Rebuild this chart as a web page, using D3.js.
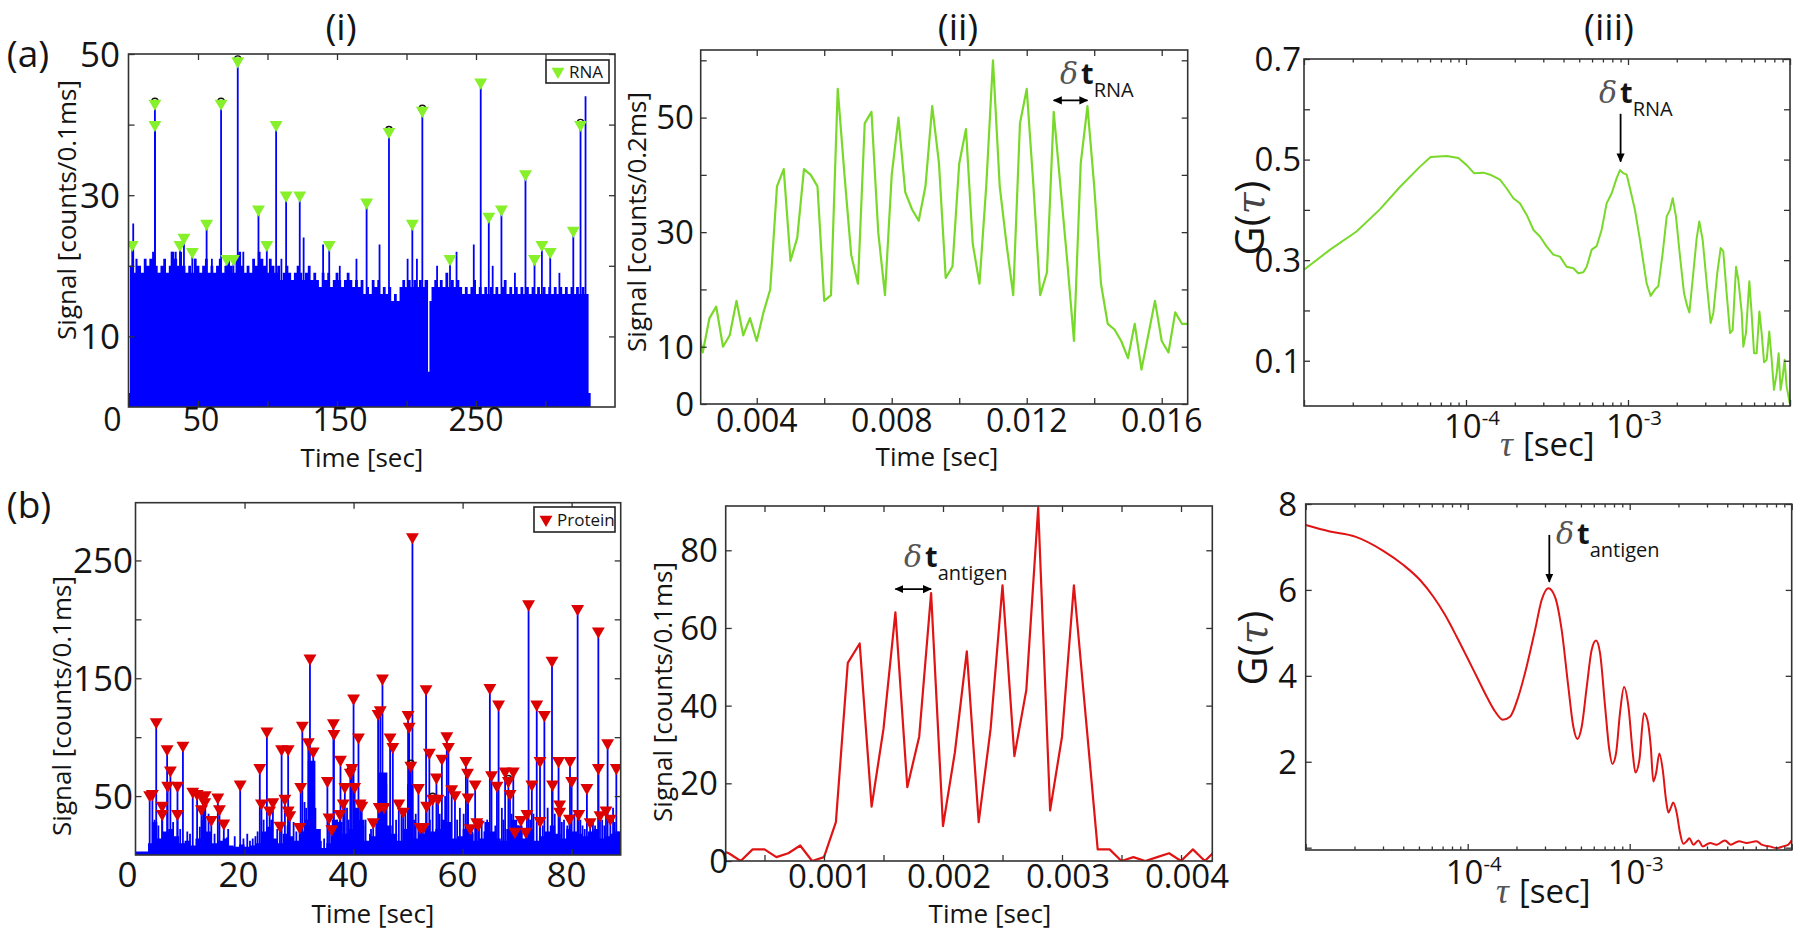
<!DOCTYPE html>
<html><head><meta charset="utf-8">
<script src="https://cdn.jsdelivr.net/npm/d3@7"></script>
<style>
body{margin:0;background:#fff;}
svg text{font-family:"Open Sans",sans-serif;fill:#141414;}
</style></head><body>
<script>
// ================= DATA =================
// (a)(i) RNA time trace
const rnaEnvelope=[[0,2],[1,20],[3,19],[5,21],[6.5,20],[9,19],[11,21],[13,20],[15,21],[17,22],[18.5,20],[21,19],[23,20],[25,21],[27,19],[29,20],[31,22],[33,21],[35,20],[37,22],[38.5,20],[41,19],[43,20],[45,19],[47,21],[49,20],[51,19],[53,20],[55,21],[57,19],[59,20],[61,19],[63,20],[65,21],[67,19],[69,20],[71,21],[73,20],[75,19],[77,21],[79,22],[81,20],[83,19],[85,20],[87,19],[89,21],[91,20],[93,22],[95,21],[97,20],[99,19],[101,21],[103,20],[105,19],[107,20],[109,18],[111,19],[113,20],[115,19],[117,18],[119,19],[121,20],[123,19],[125,18],[127,19],[129,20],[131,18],[133,19],[135,18],[137,17],[139,19],[141,18],[143,19],[145,17],[147,18],[149,19],[151,18],[153,17],[155,18],[157,19],[159,18],[161,17],[163,18],[165,17],[167,18],[169,16],[171,17],[173,16],[175,18],[177,17],[179,18],[181,16],[183,17],[185,16],[187,17],[189,15],[191,16],[193,15],[195,17],[197,18],[199,17],[201,18],[203,17],[205,18],[207,17],[209,18],[211,17],[213,18],[215.5,5],[216.5,15],[218,17],[220,18],[222,17],[224,18],[226,17],[228,19],[230,17],[232,18],[234,17],[236,18],[238,17],[240,16],[242,17],[244,16],[246,17],[248,18],[250,16],[252,17],[254,16],[256,17],[258,16],[260,17],[262,16],[264,17],[266,16],[268,17],[270,18],[272,16],[274,17],[276,16],[278,17],[280,16],[282,17],[284,16],[286,17],[288,16],[290,17],[292,16],[294,17],[296,16],[298,17],[300,16],[302,17],[304,16],[306,17],[308,16],[310,17],[312,16],[314,17],[316,16],[318,17],[320,16],[322,17],[324,16],[326,17],[328,16],[331,2],[332.5,0]];
const rnaPeaks=[[2.7,23],[19.0,43],[19.0,40],[37.0,23],[39.9,24],[45.9,22],[56.2,26],[66.6,43],[70.7,21],[75.5,21],[78.6,49],[93.5,28],[99.5,23],[106.2,40],[113.4,30],[123.2,30],[144.4,23],[171.3,29],[187.4,39],[204.2,26],[211.4,42],[231.3,21],[253.4,46],[259.2,27],[268.3,28],[285.6,33],[292.1,21],[297.4,23],[303.4,22],[320.0,25],[325.2,40]];
const rnaCircled=[[19.0,43],[66.6,43],[78.6,49],[187.4,39],[211.4,42],[325.2,40]];
const rnaMinor=[[3.4,26],[31,22],[34,22],[48,21],[60,21],[82.6,22],[110,21],[126,24],[140,23],[152,20],[164,21],[180.6,23],[200.8,21],[207.5,21],[222,20],[236,22],[248.4,23],[262,20],[278,19],[310,19],[328.8,44]];
const rnaTraceTicksX=[50,100,150,200,250,300], rnaTraceLabelsX=[0,50,150,250];
const rnaTraceTicksY=[10,20,30,40,50], rnaTraceLabelsY=[10,30,50];

// (a)(ii) RNA burst
const rnaBurstT=[0.0022,0.0024,0.0026,0.0028,0.0030,0.0032,0.0034,0.0036,0.0038,0.0040,0.0042,0.0044,0.0046,0.0048,0.0050,0.0052,0.0054,0.0056,0.0058,0.0060,0.0062,0.0064,0.0066,0.0068,0.0070,0.0072,0.0074,0.0076,0.0078,0.0080,0.0082,0.0084,0.0086,0.0088,0.0090,0.0092,0.0094,0.0096,0.0098,0.0100,0.0102,0.0104,0.0106,0.0108,0.0110,0.0112,0.0114,0.0116,0.0118,0.0120,0.0122,0.0124,0.0126,0.0128,0.0130,0.0132,0.0134,0.0136,0.0138,0.0140,0.0142,0.0144,0.0146,0.0148,0.0150,0.0152,0.0154,0.0156,0.0158,0.0160,0.0162,0.0164,0.0166,0.0168];
const rnaBurstV=[15,9,15,17,10,12,18,12,15,11,16,20,38,41,25,29,41,40,38,18,19,55,40,26,21,49,51,30,19,40,50,37,34,32,38,52,42,22,24,42,48,28,21,38,60,38,28,19,49,55,38,19,23,51,38,25,11,42,52,38,21,14,13,11,8,14,6,12,18,11,9,16,14,14];
const rnaBurstTicksX=[0.004,0.006,0.008,0.010,0.012,0.014,0.016], rnaBurstLabelsX=[0.004,0.008,0.012,0.016];
const rnaBurstTicksY=[0,10,20,30,40,50,60], rnaBurstLabelsY=[0,10,30,50];

// (a)(iii) RNA correlation
const rnaCorrTau=[1.00e-5,1.45e-5,2.11e-5,2.94e-5,3.92e-5,5.20e-5,6.05e-5,7.60e-5,8.97e-5,1.01e-4,1.12e-4,1.28e-4,1.41e-4,1.62e-4,1.78e-4,1.96e-4,2.15e-4,2.37e-4,2.61e-4,2.86e-4,3.15e-4,3.46e-4,3.80e-4,4.18e-4,4.60e-4,4.93e-4,5.30e-4,5.56e-4,5.97e-4,6.41e-4,6.87e-4,7.38e-4,7.93e-4,8.51e-4,8.93e-4,9.35e-4,9.82e-4,1.028e-3,1.104e-3,1.186e-3,1.256e-3,1.303e-3,1.380e-3,1.469e-3,1.538e-3,1.637e-3,1.734e-3,1.816e-3,1.888e-3,1.977e-3,2.094e-3,2.218e-3,2.323e-3,2.393e-3,2.529e-3,2.655e-3,2.754e-3,2.891e-3,3.062e-3,3.236e-3,3.365e-3,3.556e-3,3.733e-3,3.873e-3,4.064e-3,4.266e-3,4.426e-3,4.645e-3,4.797e-3,5.035e-3,5.152e-3,5.346e-3,5.610e-3,5.794e-3,5.998e-3,6.223e-3,6.471e-3,6.683e-3,6.918e-3,7.178e-3,7.447e-3,7.709e-3,7.962e-3,8.279e-3,8.511e-3,8.750e-3,9.016e-3,9.268e-3,9.528e-3,1.000e-2];
const rnaCorrG=[0.281,0.321,0.357,0.401,0.446,0.486,0.505,0.507,0.503,0.489,0.473,0.474,0.470,0.460,0.443,0.423,0.413,0.390,0.360,0.347,0.327,0.311,0.307,0.287,0.284,0.274,0.276,0.287,0.321,0.328,0.360,0.413,0.433,0.463,0.479,0.473,0.470,0.443,0.400,0.340,0.287,0.254,0.229,0.242,0.248,0.314,0.387,0.400,0.423,0.387,0.307,0.234,0.208,0.196,0.274,0.344,0.377,0.340,0.254,0.175,0.195,0.274,0.324,0.318,0.234,0.155,0.161,0.287,0.261,0.195,0.128,0.155,0.258,0.195,0.115,0.115,0.198,0.155,0.097,0.102,0.158,0.102,0.042,0.075,0.115,0.042,0.069,0.102,0.049,0.013];
const corrTicksX=[1e-5,1e-4,1e-3,1e-2], corrLabelsX=[[1e-4,"-4"],[1e-3,"-3"]];
const rnaCorrTicksY=[0.1,0.2,0.3,0.4,0.5,0.6,0.7], rnaCorrLabelsY=[0.1,0.3,0.5,0.7];

// (b)(i) Protein time trace
const protEnvelope=[[0,3],[2.3,10],[3,28],[4,14],[5,20],[6,22],[7,16],[8,10],[9,12],[10,8],[11,14],[12,30],[13,20],[14,10],[15,12],[16,14],[17,8],[18,7],[19,9],[20,7],[21,8],[22,10],[23,20],[24,24],[25,14],[26,10],[27,18],[28,16],[29,12],[30,20],[31,30],[31.6,80],[33,22],[34,6],[35,10],[36,30],[37,28],[38,18],[39,22],[40,40],[41,30],[42,12],[43,16],[44,30],[44.5,70],[46.2,25],[47,18],[48,12],[49,22],[49.8,60],[51,14],[52,18],[53,25],[54,20],[55,22],[56,30],[57,28],[58,14],[59,16],[60,22],[61,18],[62,12],[63,14],[64,28],[65,20],[66,14],[67,12],[68,22],[69,30],[70,25],[71,14],[72,22],[73,12],[74,16],[75,20],[76,25],[77,18],[78,14],[79,22],[80,20],[81,18],[82,16],[83,20],[84,22],[85,14],[86,16],[87,18],[88,20],[89,0]];
const protPeaks=[[2.6,51],[3.1,52],[3.8,113],[4.9,42],[4.9,35],[5.8,90],[6.4,72],[5.9,59],[7.7,59],[7.7,35],[8.7,93],[10.5,54],[11.3,52],[12.1,39],[12.4,49],[12.8,51],[12.7,45],[13.9,30],[15.1,49],[15.4,39],[16.2,27],[19.2,60],[22.8,74],[23.1,44],[24.1,105],[24.6,38],[25.2,45],[26.5,25],[26.8,90],[27.4,48],[28.0,90],[28.0,38],[28.3,34],[30.1,24],[30.3,58],[30.6,110],[31.7,96],[32.0,167],[32.6,88],[35.2,63],[35.5,32],[36.0,22],[36.3,112],[36.4,103],[37.5,35],[37.6,81],[38.1,44],[38.4,58],[39.4,70],[39.7,74],[40.0,133],[40.2,58],[40.9,100],[41.2,44],[41.5,42],[43.6,28],[44.5,120],[44.9,123],[44.7,41],[45.3,150],[45.6,41],[46.7,100],[47.2,92],[48.3,44],[49.1,37],[50.0,119],[50.2,109],[50.5,76],[50.8,270],[51.9,57],[52.2,24],[52.8,24],[53.3,141],[53.4,42],[53.9,87],[54.5,48],[55.2,66],[55.5,48],[56.2,82],[57.1,101],[57.4,92],[58.0,56],[58.6,51],[60.6,80],[60.9,70],[61.0,49],[61.4,23],[62.3,60],[62.6,28],[62.9,26],[65.0,142],[65.3,68],[66.3,59],[66.6,128],[67.8,71],[68.4,63],[68.7,52],[69.3,71],[69.6,20],[70.7,30],[71.6,20],[71.8,35],[72.1,213],[72.7,60],[73.6,128],[74.2,80],[74.2,29],[75.0,119],[76.4,165],[76.5,60],[77.6,80],[77.8,43],[77.8,37],[79.6,31],[79.7,80],[80.0,63],[81.1,209],[81.3,35],[82.8,57],[83.4,28],[84.9,190],[84.9,74],[85.2,34],[86.3,38],[86.6,95],[87.1,31],[88.2,74]];
const protCircled=[[39.4,70],[50.5,76],[54.5,48],[68.4,63]];
const protMinor=[[3.5,30],[4.2,25],[6.9,28],[8.2,22],[9.5,20],[10.0,18],[11.8,24],[13.4,35],[14.5,18],[16.8,15],[17.0,22],[18.2,16],[19.8,14],[20.5,18],[21.0,12],[21.5,14],[22.0,16],[22.4,20],[23.5,30],[24.9,30],[26.0,22],[27.9,25],[29.0,28],[29.5,20],[31.0,45],[31.3,40],[33.0,40],[33.5,18],[34.0,12],[34.6,14],[35.9,25],[37.0,30],[38.8,40],[39.1,30],[41.8,25],[42.2,30],[43.0,18],[43.2,22],[45.8,45],[46.0,60],[47.8,30],[48.8,40],[49.5,35],[51.1,30],[51.4,35],[52.5,20],[54.0,30],[55.8,35],[56.8,50],[57.8,25],[59.0,30],[59.5,40],[60.2,35],[61.8,20],[63.0,25],[63.5,30],[64.0,20],[64.5,30],[66.0,25],[67.2,40],[67.5,30],[69.0,35],[70.2,25],[70.8,22],[72.4,30],[73.0,35],[74.7,25],[75.6,40],[76.9,35],[78.2,28],[78.6,30],[79.2,25],[80.5,35],[81.6,30],[82.0,25],[82.4,22],[83.9,30],[84.3,25],[85.6,30],[86.0,25],[87.6,40],[87.9,28],[88.6,20],[88.8,18]];
const protTraceTicksX=[20,40,60,80], protTraceLabelsX=[0,20,40,60,80];
const protTraceTicksY=[50,100,150,200,250], protTraceLabelsY=[50,150,250];

// (b)(ii) Protein burst
const protBurstT=[0.0001,0.0002,0.0003,0.0004,0.0005,0.0006,0.0007,0.0008,0.0009,0.0010,0.0011,0.0012,0.0013,0.0014,0.0015,0.0016,0.0017,0.0018,0.0019,0.0020,0.0021,0.0022,0.0023,0.0024,0.0025,0.0026,0.0027,0.0028,0.0029,0.0030,0.0031,0.0032,0.0033,0.0034,0.0035,0.0036,0.0037,0.0038,0.0039,0.0040,0.0041,0.0042,0.0043];
const protBurstV=[3,2,0,3,3,1,2,4,0,1,10,51,56,14,34,64,19,32,69,9,28,54,10,34,71,27,44,91,13,32,71,37,3,3,0,1,0,1,2,0,3,0,3];
const protBurstTicksX=[0.0005,0.001,0.0015,0.002,0.0025,0.003,0.0035,0.004], protBurstLabelsX=[0.001,0.002,0.003,0.004];
const protBurstTicksY=[0,20,40,60,80], protBurstLabelsY=[0,20,40,60,80];

// (b)(iii) Protein correlation
const protCorrTau=[1.00e-5,1.41e-5,2.02e-5,3.01e-5,4.01e-5,5.08e-5,6.14e-5,7.24e-5,8.55e-5,9.86e-5,1.138e-4,1.309e-4,1.476e-4,1.644e-4,1.824e-4,2.056e-4,2.312e-4,2.606e-4,2.864e-4,3.148e-4,3.459e-4,3.802e-4,4.178e-4,4.487e-4,4.753e-4,5.058e-4,5.433e-4,5.821e-4,6.194e-4,6.561e-4,7.047e-4,7.482e-4,7.816e-4,8.241e-4,8.710e-4,9.226e-4,9.817e-4,1.0447e-3,1.0839e-3,1.1482e-3,1.2246e-3,1.2853e-3,1.3490e-3,1.3996e-3,1.4555e-3,1.5241e-3,1.5996e-3,1.6749e-3,1.7338e-3,1.7906e-3,1.8578e-3,1.9498e-3,2.0464e-3,2.1429e-3,2.2491e-3,2.3335e-3,2.4717e-3,2.6546e-3,2.8249e-3,3.1333e-3,3.4435e-3,3.8726e-3,4.1976e-3,4.7315e-3,5.2723e-3,6.0534e-3,6.5313e-3,7.3114e-3,8.0724e-3,8.8512e-3,9.5280e-3,1.0e-2];
const protCorrG=[7.51,7.36,7.24,6.91,6.58,6.23,5.84,5.42,4.91,4.45,3.98,3.52,3.17,2.98,3.05,3.52,4.22,5.07,5.77,6.04,5.84,5.07,3.75,2.82,2.53,2.82,3.75,4.60,4.82,4.53,3.29,2.28,1.95,2.20,3.13,3.74,3.29,2.20,1.75,2.05,3.13,2.98,2.36,1.54,1.74,2.19,1.81,1.12,0.82,0.92,1.05,0.81,0.34,0.09,0.15,0.22,0.07,0.17,0.03,0.11,0.07,0.17,0.07,0.15,0.11,0.15,0.07,0.03,-0.01,0.03,0.07,0.17];
const protCorrTicksY=[0,2,4,6,8], protCorrLabelsY=[2,4,6,8];

// ================= DRAWING =================
const BLUE="#0000ff", GREEN_LINE="#79d92a", GREEN_MK="#86f02a", RED_LINE="#e01414", RED_MK="#dd0000";
const svg=d3.select("body").append("svg").attr("width",1800).attr("height",934);
const defs=svg.append("defs");
defs.append("marker").attr("id","ah").attr("viewBox","0 0 10 10").attr("refX",9).attr("refY",5)
  .attr("markerWidth",9).attr("markerHeight",9).attr("orient","auto-start-reverse").attr("markerUnits","userSpaceOnUse")
  .append("path").attr("d","M0,0.5 L10,5 L0,9.5 Z").attr("fill","#000");

function makePanel(o){
  const x=(o.log?d3.scaleLog():d3.scaleLinear()).domain(o.xDomain).range([o.left,o.right]);
  const y=d3.scaleLinear().domain(o.yDomain).range([o.bottom,o.top]);
  const g=svg.append("g");
  defs.append("clipPath").attr("id","c"+o.id).append("rect")
    .attr("x",o.left).attr("y",o.top).attr("width",o.right-o.left).attr("height",o.bottom-o.top);
  const plot=g.append("g").attr("clip-path",`url(#c${o.id})`);
  return {o,x,y,g,plot};
}
function frame(p){
  const {o,x,y,g}=p;
  const T=g.append("g");
  const tk=(axis,tr)=>{const a=T.append("g").attr("transform",tr).call(axis);a.select(".domain").remove();a.selectAll("text").remove();a.selectAll("line").attr("stroke","#333").attr("stroke-width",1.3);};
  const mk=(f,s,vals,len)=>f(s).tickValues(vals).tickSizeInner(-len).tickSizeOuter(0);
  [[d3.axisBottom,`translate(0,${o.bottom})`],[d3.axisTop,`translate(0,${o.top})`]].forEach(([f,tr])=>{
    tk(mk(f,x,o.xTicks,6),tr);
    if(o.log){const minor=x.ticks().filter(v=>!o.xTicks.some(m=>Math.abs(m-v)/m<1e-6));tk(mk(f,x,minor,3.5),tr);}
  });
  [[d3.axisLeft,`translate(${o.left},0)`],[d3.axisRight,`translate(${o.right},0)`]].forEach(([f,tr])=>tk(mk(f,y,o.yTicks,6),tr));
  g.append("rect").attr("x",o.left).attr("y",o.top).attr("width",o.right-o.left).attr("height",o.bottom-o.top)
    .attr("fill","none").attr("stroke","#333").attr("stroke-width",1.6);
  g.append("g").selectAll("text").data(o.yLabels).join("text")
    .attr("x",d=>o.yLabelRight+((o.yDx||{})[d]||0)).attr("y",d=>y(d)).attr("dy","0.36em")
    .attr("text-anchor","end").attr("font-size",o.yFont||o.tickFont).text(d=>o.yFmt?o.yFmt(d):d);
  if(o.log){
    const t=g.append("g").selectAll("text").data(o.xLabels).join("text")
      .attr("x",d=>x(d[0])+6).attr("y",o.xLabelBase).attr("text-anchor","middle").attr("font-size",o.tickFont);
    t.append("tspan").text("10");
    t.append("tspan").attr("dy",-13).attr("font-size",o.tickFont*0.62).text(d=>d[1]);
  } else {
    g.append("g").selectAll("text").data(o.xLabels).join("text")
      .attr("x",d=>x(d)+((o.xDx||{})[d]||0)).attr("y",o.xLabelBase).attr("text-anchor","middle")
      .attr("font-size",o.tickFont).text(d=>o.xFmt?o.xFmt(d):d);
  }
}
function ylabelText(cx,cy,txt,fs){
  svg.append("text").attr("transform",`translate(${cx},${cy}) rotate(-90)`).attr("text-anchor","middle")
    .attr("dy","0.35em").attr("font-size",fs).text(txt);
}
function gLabel(cx,cy){
  const t=svg.append("text").attr("transform",`translate(${cx},${cy}) rotate(-90)`).attr("text-anchor","middle")
    .attr("dy","0.35em").attr("font-size",40);
  t.append("tspan").text("G(");
  t.append("tspan").attr("font-family","'DejaVu Serif',serif").attr("font-style","italic").attr("fill","#444").attr("font-size",40).text("τ");
  t.append("tspan").text(")");
}
function tauLabel(x0,base){
  const t=svg.append("text").attr("x",x0).attr("y",base).attr("font-size",33);
  t.append("tspan").attr("font-family","'Liberation Serif',serif").attr("font-style","italic").attr("fill","#555").attr("font-size",36).text("τ");
  t.append("tspan").attr("dx",10).text("[sec]");
}
function deltaT(x0,base,sub){
  const t=svg.append("text").attr("x",x0).attr("y",base);
  t.append("tspan").attr("font-family","'DejaVu Serif',serif").attr("font-style","italic").attr("fill","#555").attr("font-size",30).text("δ");
  t.append("tspan").attr("dx",3).attr("font-weight",700).attr("font-size",29).text("t");
  t.append("tspan").attr("dy",13).attr("font-size",20).text(sub);
}
function title(cx,base,txt){svg.append("text").attr("x",cx).attr("y",base).attr("text-anchor","middle").attr("font-size",37).text(txt);}
const tri=d3.symbol().type(d3.symbolTriangle).size(72);
function legend(x0,y0,w,h,label,color){
  const g=svg.append("g");
  g.append("rect").attr("x",x0).attr("y",y0).attr("width",w).attr("height",h).attr("fill","#fff").attr("stroke","#222").attr("stroke-width",1.6);
  g.append("path").attr("d",tri).attr("transform",`translate(${x0+12},${y0+h/2}) rotate(180)`).attr("fill",color);
  g.append("text").attr("x",x0+23).attr("y",y0+h/2).attr("dy","0.36em").attr("font-size",17).text(label);
}
function drawTrace(p,env,peaks,minor,circled,mkColor){
  const {x,y,plot}=p;
  plot.append("path").datum(env).attr("fill",BLUE)
    .attr("d",d3.area().curve(d3.curveStepAfter).x(d=>x(d[0])).y0(y(0)).y1(d=>y(d[1])));
  plot.append("g").selectAll("line").data(minor.concat(peaks)).join("line")
    .attr("x1",d=>x(d[0])).attr("x2",d=>x(d[0])).attr("y1",y(0)).attr("y2",d=>y(d[1]))
    .attr("stroke",BLUE).attr("stroke-width",1.8);
  plot.append("g").selectAll("circle").data(circled).join("circle")
    .attr("cx",d=>x(d[0])).attr("cy",d=>y(d[1])-2).attr("r",3.2).attr("fill","none").attr("stroke","#111").attr("stroke-width",1.4);
  plot.append("g").selectAll("path").data(peaks).join("path").attr("d",tri)
    .attr("transform",d=>`translate(${x(d[0])},${y(d[1])}) rotate(180)`).attr("fill",mkColor);
}

// ---------- (a)(i) ----------
const pA1=makePanel({id:"a1",left:128.5,right:615,top:54,bottom:407,xDomain:[0,350],yDomain:[0,50]});
drawTrace(pA1,rnaEnvelope,rnaPeaks,rnaMinor,rnaCircled,GREEN_MK);
Object.assign(pA1.o,{xTicks:rnaTraceTicksX,yTicks:rnaTraceTicksY,xLabels:rnaTraceLabelsX,yLabels:rnaTraceLabelsY,
  tickFont:32,yFont:35,yLabelRight:120,xLabelBase:431,xDx:{0:-16,50:3,150:3}});
frame(pA1);
legend(546,60,63,23,"RNA",GREEN_MK);
svg.append("text").attr("x",362).attr("y",467).attr("text-anchor","middle").attr("font-size",26).text("Time [sec]");
ylabelText(67,210,"Signal [counts/0.1ms]",26);

// ---------- (a)(ii) ----------
const pA2=makePanel({id:"a2",left:700.7,right:1187.7,top:50,bottom:404,xDomain:[0.00234,0.01677],yDomain:[0,61.8]});
pA2.plot.append("path").datum(rnaBurstT.map((t,i)=>[t,rnaBurstV[i]])).attr("fill","none").attr("stroke",GREEN_LINE).attr("stroke-width",2.2)
  .attr("stroke-linejoin","round").attr("d",d3.line().x(d=>pA2.x(d[0])).y(d=>pA2.y(d[1])));
Object.assign(pA2.o,{xTicks:rnaBurstTicksX,yTicks:rnaBurstTicksY,xLabels:rnaBurstLabelsX,yLabels:rnaBurstLabelsY,tickFont:32,yFont:33,yLabelRight:694,xLabelBase:432,xFmt:d3.format(".3f")});
frame(pA2);
svg.append("line").attr("x1",pA2.x(0.0128)).attr("x2",pA2.x(0.0138)).attr("y1",pA2.y(53)).attr("y2",pA2.y(53))
  .attr("stroke","#000").attr("stroke-width",1.8).attr("marker-start","url(#ah)").attr("marker-end","url(#ah)");
deltaT(1060,84,"RNA");
svg.append("text").attr("x",937).attr("y",466).attr("text-anchor","middle").attr("font-size",26).text("Time [sec]");
ylabelText(637,222,"Signal [counts/0.2ms]",26);

// ---------- (a)(iii) ----------
const pA3=makePanel({id:"a3",log:true,left:1304,right:1790,top:59,bottom:406,xDomain:[1e-5,1e-2],yDomain:[0.01,0.7]});
pA3.plot.append("path").datum(rnaCorrTau.map((t,i)=>[t,rnaCorrG[i]])).attr("fill","none").attr("stroke",GREEN_LINE).attr("stroke-width",2)
  .attr("stroke-linejoin","round").attr("d",d3.line().x(d=>pA3.x(d[0])).y(d=>pA3.y(d[1])));
Object.assign(pA3.o,{xTicks:corrTicksX,yTicks:rnaCorrTicksY,xLabels:corrLabelsX,yLabels:rnaCorrLabelsY,tickFont:33,yLabelRight:1301,xLabelBase:438,yFmt:d3.format(".1f")});
frame(pA3);
svg.append("line").attr("x1",pA3.x(9.0e-4)).attr("x2",pA3.x(9.0e-4)).attr("y1",pA3.y(0.591)).attr("y2",pA3.y(0.496))
  .attr("stroke","#000").attr("stroke-width",1.8).attr("marker-end","url(#ah)");
deltaT(1599,103,"RNA");
tauLabel(1500,456);
gLabel(1250,218);

// ---------- (b)(i) ----------
const pB1=makePanel({id:"b1",left:135.5,right:620.7,top:502.7,bottom:855,xDomain:[0,89],yDomain:[0,299]});
drawTrace(pB1,protEnvelope,protPeaks,protMinor,protCircled,RED_MK);
Object.assign(pB1.o,{xTicks:protTraceTicksX,yTicks:protTraceTicksY,xLabels:protTraceLabelsX,yLabels:protTraceLabelsY,tickFont:35,yLabelRight:133,xLabelBase:887,xDx:{0:-8,20:-6,40:-5,60:-5,80:-5}});
frame(pB1);
legend(534,507,81,25,"Protein",RED_MK);
svg.append("text").attr("x",373).attr("y",923).attr("text-anchor","middle").attr("font-size",26).text("Time [sec]");
ylabelText(62,706,"Signal [counts/0.1ms]",26);

// ---------- (b)(ii) ----------
const pB2=makePanel({id:"b2",left:725.7,right:1212.3,top:506,bottom:861,xDomain:[0.000174,0.004263],yDomain:[0,91.4]});
pB2.plot.append("path").datum(protBurstT.map((t,i)=>[t,protBurstV[i]])).attr("fill","none").attr("stroke",RED_LINE).attr("stroke-width",2.2)
  .attr("stroke-linejoin","round").attr("d",d3.line().x(d=>pB2.x(d[0])).y(d=>pB2.y(d[1])));
Object.assign(pB2.o,{xTicks:protBurstTicksX,yTicks:protBurstTicksY,xLabels:protBurstLabelsX,yLabels:protBurstLabelsY,tickFont:33,yLabelRight:718,yDx:{0:10},xLabelBase:888,xDx:{0.001:6,0.002:6,0.003:6,0.004:6},xFmt:d3.format(".3f")});
frame(pB2);
svg.append("line").attr("x1",pB2.x(0.0016)).attr("x2",pB2.x(0.0019)).attr("y1",pB2.y(70)).attr("y2",pB2.y(70))
  .attr("stroke","#000").attr("stroke-width",1.8).attr("marker-start","url(#ah)").attr("marker-end","url(#ah)");
deltaT(904,567,"antigen");
svg.append("text").attr("x",990).attr("y",923).attr("text-anchor","middle").attr("font-size",26).text("Time [sec]");
ylabelText(663,692,"Signal [counts/0.1ms]",26);

// ---------- (b)(iii) ----------
const pB3=makePanel({id:"b3",log:true,left:1305.7,right:1791.7,top:504,bottom:850,xDomain:[1e-5,1e-2],yDomain:[-0.054,8]});
pB3.plot.append("path").datum(protCorrTau.map((t,i)=>[t,protCorrG[i]])).attr("fill","none").attr("stroke",RED_LINE).attr("stroke-width",2)
  .attr("stroke-linejoin","round").attr("d",d3.line().curve(d3.curveMonotoneX).x(d=>pB3.x(d[0])).y(d=>pB3.y(d[1])));
Object.assign(pB3.o,{xTicks:corrTicksX,yTicks:protCorrTicksY,xLabels:corrLabelsX,yLabels:protCorrLabelsY,tickFont:33,yLabelRight:1297,xLabelBase:884});
frame(pB3);
svg.append("line").attr("x1",pB3.x(3.19e-4)).attr("x2",pB3.x(3.19e-4)).attr("y1",pB3.y(7.28)).attr("y2",pB3.y(6.19))
  .attr("stroke","#000").attr("stroke-width",1.8).attr("marker-end","url(#ah)");
deltaT(1556,544,"antigen");
tauLabel(1496,903);
gLabel(1253,648);

// ---------- titles ----------
title(28,67,"(a)"); title(29,518,"(b)");
title(341,40,"(i)"); title(958,40,"(ii)"); title(1609,40,"(iii)");
</script></body></html>
